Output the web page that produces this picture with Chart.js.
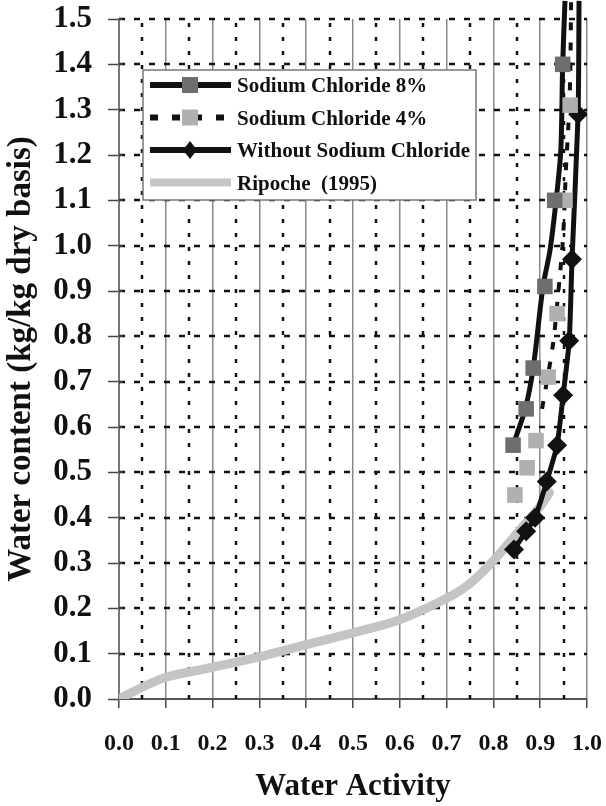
<!DOCTYPE html>
<html>
<head>
<meta charset="utf-8">
<script src="https://cdn.jsdelivr.net/npm/chart.js@4.4.0/dist/chart.umd.min.js"></script>
<style>
  html, body { margin: 0; padding: 0; background: #fff; }
</style>
</head>
<body>
<canvas id="isoChart" width="606" height="806"></canvas>
<script>
// measured points (water activity / water content)
var salt8X = [0.842, 0.870, 0.885, 0.910, 0.931, 0.948];
var salt8Y = [0.56, 0.64, 0.73, 0.91, 1.10, 1.40];
var salt4X = [0.846, 0.872, 0.891, 0.917, 0.936, 0.953, 0.964];
var salt4Y = [0.45, 0.51, 0.57, 0.71, 0.85, 1.10, 1.31];
var noSaltX = [0.844, 0.870, 0.889, 0.914, 0.936, 0.949, 0.962, 0.968, 0.981];
var noSaltY = [0.33, 0.37, 0.40, 0.48, 0.56, 0.67, 0.79, 0.97, 1.29];

// fitted curves
var fit8X = [0.842, 0.868, 0.885, 0.906, 0.921, 0.934, 0.944, 0.948, 0.953];
var fit8Y = [0.56, 0.64, 0.73, 0.91, 0.99, 1.10, 1.21, 1.40, 1.54];
var fit4X = [0.904, 0.927, 0.938, 0.949, 0.955, 0.960, 0.964, 0.966];
var fit4Y = [0.64, 0.78, 0.89, 1.02, 1.17, 1.26, 1.37, 1.54];
var fitNoX = [0.844, 0.870, 0.889, 0.914, 0.936, 0.949, 0.962, 0.968, 0.981, 0.983];
var fitNoY = [0.33, 0.37, 0.40, 0.48, 0.56, 0.67, 0.79, 0.97, 1.29, 1.54];

// Ripoche (1995)
var ripX = [0, 0.05, 0.1, 0.2, 0.3, 0.4, 0.5, 0.6, 0.7, 0.75, 0.8, 0.85, 0.9, 0.92];
var ripY = [0, 0.026, 0.048, 0.07, 0.093, 0.12, 0.146, 0.175, 0.222, 0.255, 0.305, 0.365, 0.425, 0.455];

var legendNames = ['Sodium Chloride 8%', 'Sodium Chloride 4%', 'Without Sodium Chloride', 'Ripoche  (1995)'];

function pts(xs, ys) {
    return xs.map(function (v, i) { return { x: v, y: ys[i] }; });
}

var serif = '"Liberation Serif", "Times New Roman", serif';

// dotted half-step verticals and dashed horizontals
var gridExtras = {
    id: 'gridExtras',
    beforeDatasetsDraw: function (chart) {
        var ctx = chart.ctx, a = chart.chartArea, x = chart.scales.x, y = chart.scales.y;
        ctx.save();
        ctx.strokeStyle = '#111';
        ctx.lineWidth = 2.5;
        ctx.setLineDash([4, 10]);
        for (var i = 0; i < 10; i++) {
            var px = Math.round(x.getPixelForValue(0.05 + i * 0.1));
            ctx.beginPath();
            ctx.moveTo(px, a.bottom);
            ctx.lineTo(px, a.top);
            ctx.stroke();
        }
        ctx.setLineDash([6, 9]);
        for (var j = 1; j <= 15; j++) {
            var py = Math.round(y.getPixelForValue(j * 0.1));
            ctx.beginPath();
            ctx.moveTo(a.left, py);
            ctx.lineTo(a.right, py);
            ctx.stroke();
        }
        // y ticks poke a little into the plot
        ctx.setLineDash([]);
        ctx.strokeStyle = '#444';
        ctx.lineWidth = 1.5;
        for (var k = 0; k <= 15; k++) {
            var ty = Math.round(y.getPixelForValue(k * 0.1));
            ctx.beginPath();
            ctx.moveTo(a.left, ty);
            ctx.lineTo(a.left + 4, ty);
            ctx.stroke();
        }
        ctx.restore();
    }
};

// legend box inside the plot
var boxLegend = {
    id: 'boxLegend',
    afterDatasetsDraw: function (chart) {
        var ctx = chart.ctx, a = chart.chartArea;
        var left = a.left + 24, top = a.top + 51, h = 130;
        ctx.save();
        ctx.font = 'bold 21px ' + serif;
        var textW = 0;
        legendNames.forEach(function (n) { textW = Math.max(textW, ctx.measureText(n).width); });
        var w = 94 + textW + 6;
        ctx.fillStyle = '#fff';
        ctx.fillRect(left, top, w, h);
        ctx.strokeStyle = '#777';
        ctx.lineWidth = 1.5;
        ctx.strokeRect(left, top, w, h);

        var x0 = left + 7, x1 = left + 88, mx = left + 47;
        for (var i = 0; i < 4; i++) {
            var cy = top + 15 + i * 32.5;
            ctx.setLineDash(i === 1 ? [8, 14] : []);
            ctx.strokeStyle = i === 3 ? '#c6c6c6' : '#111';
            ctx.lineWidth = i === 3 ? 8 : 6;
            ctx.beginPath();
            ctx.moveTo(x0, cy);
            ctx.lineTo(x1, cy);
            ctx.stroke();
            ctx.setLineDash([]);
            if (i === 0 || i === 1) {
                ctx.fillStyle = i === 0 ? '#6e6e6e' : '#b0b0b0';
                ctx.fillRect(mx - 8, cy - 8, 16, 16);
            } else if (i === 2) {
                ctx.fillStyle = '#111';
                ctx.beginPath();
                ctx.moveTo(mx, cy - 9);
                ctx.lineTo(mx + 7, cy);
                ctx.lineTo(mx, cy + 9);
                ctx.lineTo(mx - 7, cy);
                ctx.closePath();
                ctx.fill();
            }
            ctx.fillStyle = '#111';
            ctx.textBaseline = 'middle';
            ctx.fillText(legendNames[i], x1 + 6, cy + 2);
        }
        ctx.restore();
    }
};

var ctx = document.getElementById('isoChart').getContext('2d');
var isoChart = new Chart(ctx, {
    type: 'scatter',
    data: {
        datasets: [
            {
                label: legendNames[0], data: pts(salt8X, salt8Y), order: 1,
                pointStyle: 'rect', pointRadius: 11, backgroundColor: '#6e6e6e', borderWidth: 0, showLine: false
            },
            {
                label: legendNames[1], data: pts(salt4X, salt4Y), order: 1,
                pointStyle: 'rect', pointRadius: 11, backgroundColor: '#b0b0b0', borderWidth: 0, showLine: false
            },
            {
                label: legendNames[2], data: pts(noSaltX, noSaltY), order: 1,
                pointStyle: 'rectRot', pointRadius: 10, backgroundColor: '#111', borderWidth: 0, showLine: false
            },
            {
                label: 'fit 8%', data: pts(fit8X, fit8Y), order: 2, showLine: true, pointRadius: 0,
                borderColor: '#111', borderWidth: 5, tension: 0.3, clip: { left: 0, top: 19, right: 0, bottom: 0 }
            },
            {
                label: 'fit 4%', data: pts(fit4X, fit4Y), order: 2, showLine: true, pointRadius: 0,
                borderColor: '#111', borderWidth: 4, borderDash: [8, 12], tension: 0.3,
                clip: { left: 0, top: 19, right: 0, bottom: 0 }
            },
            {
                label: 'fit without', data: pts(fitNoX, fitNoY), order: 2, showLine: true, pointRadius: 0,
                borderColor: '#111', borderWidth: 5, tension: 0.2, clip: { left: 0, top: 19, right: 0, bottom: 0 }
            },
            {
                label: legendNames[3], data: pts(ripX, ripY), order: 3, showLine: true, pointRadius: 0,
                borderColor: '#c4c4c4', borderWidth: 9, tension: 0.3, borderCapStyle: 'round'
            }
        ]
    },
    options: {
        responsive: false,
        animation: false,
        layout: { padding: { top: 19, right: 19, left: 0, bottom: 0 } },
        plugins: {
            legend: { display: false },
            tooltip: { enabled: false }
        },
        scales: {
            x: {
                type: 'linear', min: 0, max: 1,
                afterFit: function (s) {
                    s.height = 107;
                    s.paddingLeft = 0;
                    s.paddingRight = 0;
                },
                ticks: {
                    stepSize: 0.1, padding: 21, color: '#111',
                    font: { family: serif, size: 24, weight: 'bold' },
                    callback: function (v) { return v.toFixed(1); }
                },
                grid: { color: '#8a8a8a', lineWidth: 1.5, tickLength: 9, tickColor: '#444', tickWidth: 1.5 },
                border: { color: '#555', width: 2 },
                title: {
                    display: true, text: 'Water Activity', color: '#111',
                    font: { family: serif, size: 31, weight: 'bold' },
                    padding: { top: 0, bottom: 0 }
                }
            },
            y: {
                type: 'linear', min: 0, max: 1.5,
                afterFit: function (s) {
                    s.width = 119;
                    s.paddingTop = 0;
                    s.paddingBottom = 0;
                },
                ticks: {
                    stepSize: 0.1, padding: 16, color: '#111',
                    font: { family: serif, size: 31, weight: 'bold' },
                    callback: function (v) { return v.toFixed(1); }
                },
                grid: { drawOnChartArea: false, tickLength: 11, tickColor: '#444', tickWidth: 1.5 },
                border: { color: '#777', width: 2 },
                title: {
                    display: true, text: 'Water content (kg/kg dry basis)', color: '#111',
                    font: { family: serif, size: 33, weight: 'bold' },
                    padding: { top: 2, bottom: 0 }
                }
            }
        }
    },
    plugins: [gridExtras, boxLegend]
});
</script>
</body>
</html>
